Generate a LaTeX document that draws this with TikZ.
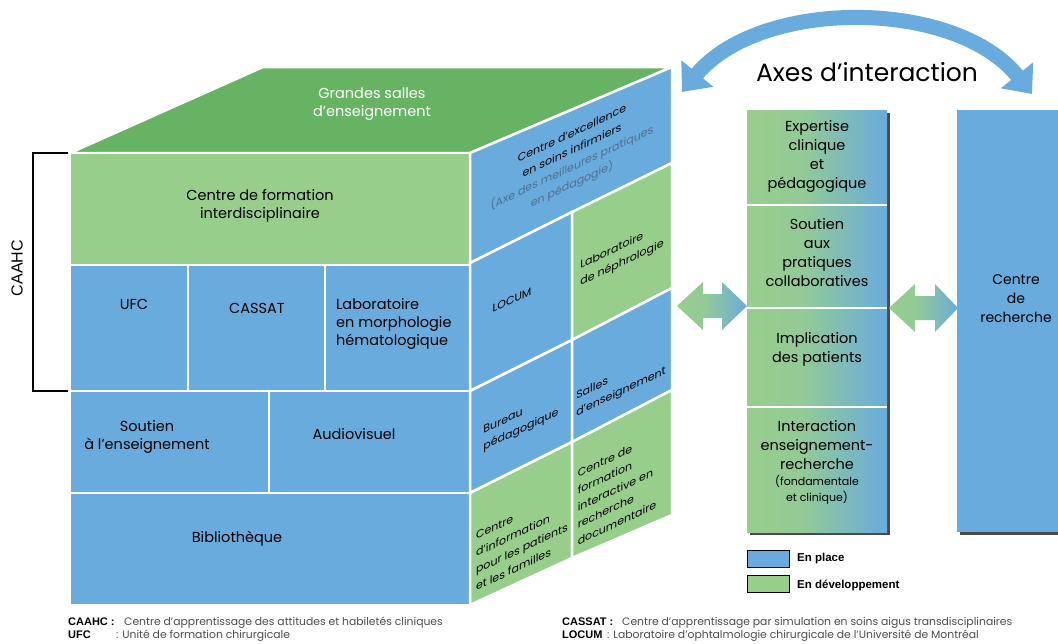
\documentclass[tikz,border=0pt]{standalone}
\usepackage{fontspec}
\setmainfont{Poppins}
\newfontfamily\arialf{Liberation Sans}
\usetikzlibrary{arrows.meta}
\definecolor{cblue}{HTML}{6AABDD}
\definecolor{cgreen}{HTML}{98CE8C}
\definecolor{ctop}{HTML}{66B463}
\definecolor{cgraytxt}{HTML}{4F6E92}
\definecolor{cshadow}{HTML}{4A4A4A}
\pgfdeclarehorizontalshading{gbshade}{100bp}{color(0bp)=(cgreen); color(25bp)=(cgreen); color(45bp)=(cgreen!88!cblue); color(75bp)=(cblue); color(100bp)=(cblue)}
\tikzset{
  cell/.style={draw=white, line width=2.5pt},
  ftxt/.style={font=\fontsize{14.5}{18}\selectfont, align=center, text=black, inner sep=0pt},
  rtxt/.style={font=\fontsize{11}{17}\selectfont, yslant=0.47, align=left, text=black, inner sep=0pt},
  mtxt/.style={font=\fontsize{14.5}{19}\selectfont, align=center, text=black, inner sep=0pt},
  leglab/.style={font=\arialf\bfseries\fontsize{11.5}{13}\selectfont, anchor=west, inner sep=0pt},
  fnlab/.style={font=\arialf\bfseries\fontsize{11}{12}\selectfont, anchor=base west, inner sep=0pt},
  fndesc/.style={font=\fontsize{10.8}{12}\selectfont, text=black!70, anchor=base west, inner sep=0pt},
  blockarrow/.style={shading=gbshade},
}
\begin{document}
\begin{tikzpicture}[x=1pt,y=-1pt]
\useasboundingbox (0,0) rectangle (1058,643);

% ---------- top face ----------
\path[cell, fill=ctop] (70,153) -- (263,67) -- (672,67) -- (470,153) -- cycle;
\node[ftxt, text=white] (grandes) at (372,104) {Grandes salles\\d’enseignement};

% ---------- front face ----------
\path[cell, fill=cgreen] (70,153) rectangle (470,265);
\path[cell, fill=cblue] (70,265) rectangle (188,391);
\path[cell, fill=cblue] (188,265) rectangle (325,391);
\path[cell, fill=cblue] (325,265) rectangle (470,391);
\path[cell, fill=cblue] (70,391) rectangle (269,493);
\path[cell, fill=cblue] (269,391) rectangle (470,493);
\path[cell, fill=cblue] (70,493) rectangle (470,605);

\node[ftxt] (cfi) at (260,206) {Centre de formation\\interdisciplinaire};
\node[ftxt] (ufc) at (134,304) {UFC};
\node[ftxt] (cassat) at (257,308) {CASSAT};
\node[ftxt, align=left, anchor=west] (labmorph) at (336,324) {Laboratoire\\en morphologie\\hématologique};
\node[ftxt] (soutien) at (147,437) {Soutien\\à l’enseignement};
\node[ftxt] (audio) at (354,434) {Audiovisuel};
\node[ftxt] (biblio) at (237,539) {Bibliothèque};

% ---------- right face ----------
\path[cell, fill=cblue] (470,153) -- (672,67) -- (672,163) -- (470,263) -- cycle;
\path[cell, fill=cblue] (470,263) -- (572,212) -- (572,340) -- (470,391) -- cycle;
\path[cell, fill=cgreen] (572,212) -- (672,163) -- (672,288) -- (572,340) -- cycle;
\path[cell, fill=cblue] (470,391) -- (572,340) -- (572,442) -- (470,493) -- cycle;
\path[cell, fill=cblue] (572,340) -- (672,288) -- (672,390) -- (572,442) -- cycle;
\path[cell, fill=cgreen] (470,493) -- (572,442) -- (572,558) -- (470,605) -- cycle;
\path[cell, fill=cgreen] (572,442) -- (672,390) -- (672,515) -- (572,558) -- cycle;

\node[rtxt, align=center, font=\fontsize{11}{17}\selectfont] (excel) at (572,160) {Centre d’excellence\\en soins infirmiers\\\textcolor{cgraytxt}{(Axe des meilleures pratiques}\\\textcolor{cgraytxt}{en pédagogie)}};
\node[rtxt] (locum) at (512,300) {LOCUM};
\node[rtxt] (nephro) at (622,255) {Laboratoire\\de néphrologie};
\node[rtxt] (bureau) at (521,422) {Bureau\\pédagogique};
\node[rtxt] (salles) at (621,384) {Salles\\d’enseignement};
\node[rtxt] (cinfo) at (522,540) {Centre\\d’information\\pour les patients\\et les familles};
\node[rtxt] (cform) at (617,489) {Centre de\\formation\\interactive en\\recherche\\documentaire};

% ---------- CAAHC bracket ----------
\coordinate (bTop) at (68,153);
\coordinate (bBot) at (68,391);
\draw[line width=1.8pt] (bTop) -- (33,153) -- (33,391) -- (bBot);
\node[rotate=90, font=\arialf\fontsize{16}{18}\selectfont, inner sep=0pt] (caahc) at (17,268) {CAAHC};

% ---------- title and curved arrow ----------
\draw[cblue, line width=15pt, {Triangle[length=24pt,width=40pt]}-{Triangle[length=24pt,width=40pt]}] (682,92) .. controls (760,-2) and (955,-2) .. (1032,94);
\node[font=\fontsize{25}{28}\selectfont, inner sep=0pt] (axes) at (867,72) {Axes d’interaction};

% ---------- middle column ----------
\fill[cshadow] (887,113) rectangle (890,535);
\fill[cshadow] (750,532) rectangle (890,535);
\shade[shading=gbshade] (747,110) rectangle (887,203);
\shade[shading=gbshade] (747,206) rectangle (887,306);
\shade[shading=gbshade] (747,309) rectangle (887,405);
\shade[shading=gbshade] (747,408) rectangle (887,532);

\node[mtxt] (m1) at (817,156) {Expertise\\clinique\\et\\pédagogique};
\node[mtxt] (m2) at (817,253) {Soutien\\aux\\pratiques\\collaboratives};
\node[mtxt] (m3) at (817,349) {Implication\\des patients};
\node[mtxt, align=center] (m4) at (817,462) {Interaction\\enseignement-\\recherche\\[-3pt]{\fontsize{11}{15}\selectfont (fondamentale}\\[-3pt]{\fontsize{11}{15}\selectfont et clinique)}};

% ---------- right column ----------
\fill[cshadow] (960,532) rectangle (1058,535);
\fill[cblue] (957,110) rectangle (1060,532);
\node[mtxt, font=\fontsize{14}{19}\selectfont] (rech) at (1016,299) {Centre\\de\\recherche};

% ---------- double block arrows ----------
\shade[blockarrow] (677,306) -- (703,282) -- (703,294) -- (722,294) -- (722,282) -- (747,306) -- (722,330) -- (722,318) -- (703,318) -- (703,330) -- cycle;
\shade[blockarrow] (889,308) -- (915,284) -- (915,296) -- (935,296) -- (935,284) -- (958,308) -- (935,332) -- (935,320) -- (915,320) -- (915,332) -- cycle;

% ---------- legend ----------
\draw[fill=cblue, line width=0.8pt] (747,550) rectangle (789,567);
\node[leglab] (leg1) at (797,559) {En place};
\draw[fill=cgreen, line width=0.8pt] (747,575) rectangle (789,592);
\node[leglab] (leg2) at (797,585) {En développement};

% ---------- footnotes ----------
\node[fnlab] (fn1) at (68,625) {CAAHC :};
\node[fndesc] (fn1d) at (124,625) {Centre d’apprentissage des attitudes et habiletés cliniques};
\node[fnlab] (fn2) at (68,638) {UFC};
\node[fndesc] (fn2d) at (116,638) {: Unité de formation chirurgicale};
\node[fnlab] (fn3) at (562,625) {CASSAT :};
\node[fndesc] (fn3d) at (622,625) {Centre d’apprentissage par simulation en soins aigus transdisciplinaires};
\node[fnlab] (fn4) at (562,638) {LOCUM};
\node[fndesc] (fn4d) at (607,638) {: Laboratoire d’ophtalmologie chirurgicale de l’Université de Montréal};
\end{tikzpicture}
\end{document}
